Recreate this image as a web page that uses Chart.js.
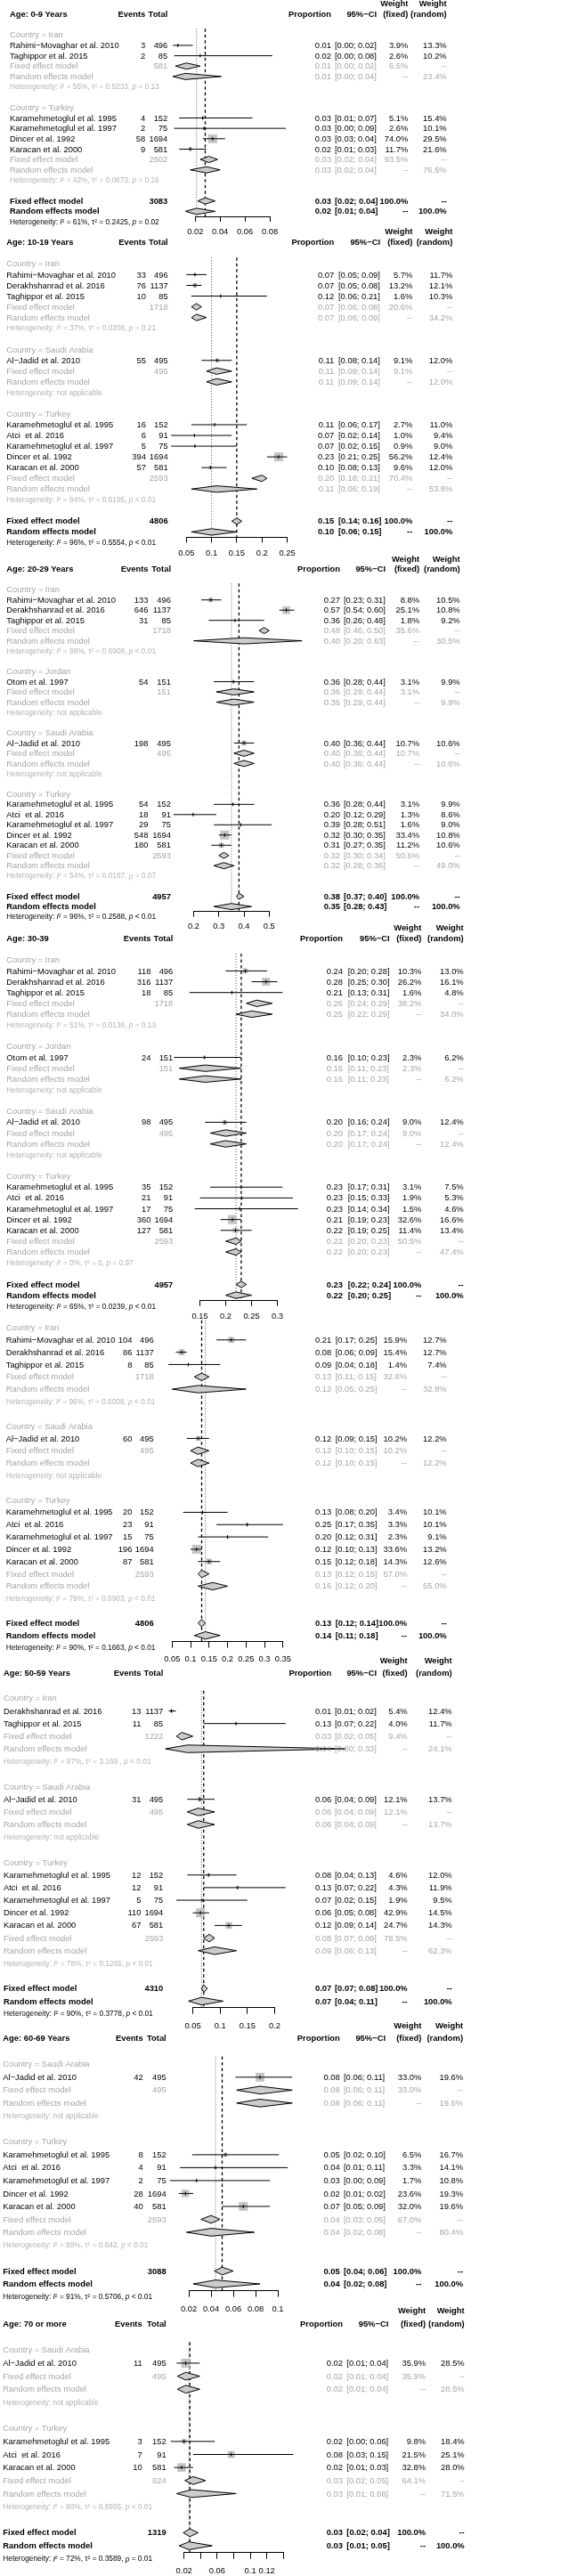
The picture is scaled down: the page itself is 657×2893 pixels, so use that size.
<!DOCTYPE html>
<html lang="en">
<head>
<meta charset="UTF-8" />
<title>Proportion by age group and country - forest plot</title>
<style>
  body { margin: 0; background: #fff; }
  #page { position: relative; width: 657px; height: 2893px; overflow: hidden; background: #fff; }
  #page canvas { position: absolute; left: 0; }
</style>
<script src="https://cdn.jsdelivr.net/npm/chart.js"></script>
</head>
<body>
<div id="page"></div>
<script>
// ---------- data ----------
const panelTitles = ["Age: 0-9 Years", "Age: 10-19 Years", "Age: 20-29 Years", "Age: 30-39", null,
  "Age: 50-59 Years", "Age: 60-69 Years", "Age: 70 or more"];
const panelTicks = [
  [0.02, 0.04, 0.06, 0.08],
  [0.05, 0.1, 0.15, 0.2, 0.25],
  [0.2, 0.3, 0.4, 0.5],
  [0.15, 0.2, 0.25, 0.3],
  [0.05, 0.1, 0.15, 0.2, 0.25, 0.3, 0.35],
  [0.05, 0.1, 0.15, 0.2],
  [0.02, 0.04, 0.06, 0.08, 0.1],
  [0.02, 0.04, 0.06, 0.08, 0.1, 0.12, 0.14]
];
const panelTickLabels = [
  ["0.02", "0.04", "0.06", "0.08"],
  ["0.05", "0.1", "0.15", "0.2", "0.25"],
  ["0.2", "0.3", "0.4", "0.5"],
  ["0.15", "0.2", "0.25", "0.3"],
  ["0.05", "0.1", "0.15", "0.2", "0.25", "0.3", "0.35"],
  ["0.05", "0.1", "0.15", "0.2"],
  ["0.02", "0.04", "0.06", "0.08", "0.1"],
  ["0.02", "", "0.06", "", "0.1", "0.12", ""]
];

// subgroups (country within age panel)
const sgPanel = [0, 0, 1, 1, 1, 2, 2, 2, 2, 3, 3, 3, 3, 4, 4, 4, 5, 5, 5, 6, 6, 7, 7];
const sgCountry = ["Iran", "Turkey", "Iran", "Saudi Arabia", "Turkey", "Iran", "Jordan", "Saudi Arabia", "Turkey",
  "Iran", "Jordan", "Saudi Arabia", "Turkey", "Iran", "Saudi Arabia", "Turkey", "Iran", "Saudi Arabia", "Turkey",
  "Saudi Arabia", "Turkey", "Saudi Arabia", "Turkey"];
const sgTotal = [581, 2502, 1718, 495, 2593, 1718, 151, 495, 2593, 1718, 151, 495, 2593, 1718, 495, 2593, 1222, 495, 2593, 495, 2593, 495, 824];
const sgFixEst = [0.013, 0.031, 0.07, 0.11, 0.20, 0.48, 0.36, 0.40, 0.32, 0.26, 0.16, 0.20, 0.22, 0.13, 0.12, 0.13, 0.03, 0.06, 0.08, 0.084, 0.040, 0.022, 0.031];
const sgFixLo = [0.004, 0.024, 0.06, 0.09, 0.18, 0.46, 0.29, 0.36, 0.30, 0.24, 0.11, 0.17, 0.20, 0.11, 0.10, 0.12, 0.02, 0.04, 0.07, 0.063, 0.031, 0.012, 0.021];
const sgFixHi = [0.024, 0.038, 0.08, 0.14, 0.21, 0.50, 0.44, 0.44, 0.34, 0.29, 0.23, 0.24, 0.23, 0.15, 0.15, 0.15, 0.05, 0.09, 0.09, 0.113, 0.048, 0.039, 0.046];
const sgFixW = [6.5, 93.5, 20.6, 9.1, 70.4, 35.6, 3.1, 10.7, 50.6, 38.2, 2.3, 9.0, 50.5, 32.8, 10.2, 57.0, 9.4, 12.1, 78.5, 33.0, 67.0, 35.9, 64.1];
const sgRanEst = [0.012, 0.029, 0.07, 0.11, 0.11, 0.40, 0.36, 0.40, 0.32, 0.25, 0.16, 0.20, 0.22, 0.12, 0.12, 0.16, 0.04, 0.06, 0.09, 0.084, 0.040, 0.022, 0.029];
const sgRanLo = [0.002, 0.016, 0.06, 0.09, 0.06, 0.20, 0.29, 0.36, 0.28, 0.22, 0.11, 0.17, 0.20, 0.05, 0.10, 0.12, 0.00, 0.04, 0.06, 0.063, 0.018, 0.012, 0.011];
const sgRanHi = [0.041, 0.040, 0.09, 0.14, 0.19, 0.63, 0.44, 0.44, 0.36, 0.29, 0.23, 0.24, 0.23, 0.25, 0.15, 0.20, 0.33, 0.09, 0.13, 0.113, 0.079, 0.039, 0.083];
const sgRanW = [23.4, 76.6, 34.2, 12.0, 53.8, 30.5, 9.9, 10.6, 49.0, 34.0, 6.2, 12.4, 47.4, 32.8, 12.2, 55.0, 24.1, 13.7, 62.3, 19.6, 80.4, 28.5, 71.5];
const sgI2 = [55, 42, 37, null, 94, 98, null, null, 54, 51, null, null, 0, 96, null, 79, 97, null, 78, null, 89, null, 80];
const sgTau2 = ["0.5233", "0.0873", "0.0206", null, "0.5195", "0.6908", null, null, "0.0167", "0.0136", null, null, "0",
  "0.6008", null, "0.0903", "3.169 ", null, "0.1265", null, "0.642", null, "0.6955"];
const sgP = ["= 0.13", "= 0.16", "= 0.21", null, "< 0.01", "< 0.01", null, null, "= 0.07", "= 0.13", null, null, "= 0.97",
  "< 0.01", null, "< 0.01", "< 0.01", null, "< 0.01", null, "< 0.01", null, "< 0.01"];

// studies
const stGroup = [0, 0, 1, 1, 1, 1, 2, 2, 2, 3, 4, 4, 4, 4, 4, 5, 5, 5, 6, 7, 8, 8, 8, 8, 8, 9, 9, 9, 10, 11,
  12, 12, 12, 12, 12, 13, 13, 13, 14, 15, 15, 15, 15, 15, 16, 16, 17, 18, 18, 18, 18, 18, 19, 20, 20, 20, 20, 20, 21, 22, 22, 22];
const stName = [
  "Rahimi−Movaghar et al. 2010", "Taghippor et al. 2015",
  "Karamehmetoglul et al. 1995", "Karamehmetoglul et al. 1997", "Dincer et al. 1992", "Karacan et al. 2000",
  "Rahimi−Movaghar et al. 2010", "Derakhshanrad et al. 2016", "Taghippor et al. 2015",
  "Al−Jadid et al. 2010",
  "Karamehmetoglul et al. 1995", "Atci  et al. 2016", "Karamehmetoglul et al. 1997", "Dincer et al. 1992", "Karacan et al. 2000",
  "Rahimi−Movaghar et al. 2010", "Derakhshanrad et al. 2016", "Taghippor et al. 2015",
  "Otom et al. 1997",
  "Al−Jadid et al. 2010",
  "Karamehmetoglul et al. 1995", "Atci  et al. 2016", "Karamehmetoglul et al. 1997", "Dincer et al. 1992", "Karacan et al. 2000",
  "Rahimi−Movaghar et al. 2010", "Derakhshanrad et al. 2016", "Taghippor et al. 2015",
  "Otom et al. 1997",
  "Al−Jadid et al. 2010",
  "Karamehmetoglul et al. 1995", "Atci  et al. 2016", "Karamehmetoglul et al. 1997", "Dincer et al. 1992", "Karacan et al. 2000",
  "Rahimi−Movaghar et al. 2010", "Derakhshanrad et al. 2016", "Taghippor et al. 2015",
  "Al−Jadid et al. 2010",
  "Karamehmetoglul et al. 1995", "Atci  et al. 2016", "Karamehmetoglul et al. 1997", "Dincer et al. 1992", "Karacan et al. 2000",
  "Derakhshanrad et al. 2016", "Taghippor et al. 2015",
  "Al−Jadid et al. 2010",
  "Karamehmetoglul et al. 1995", "Atci  et al. 2016", "Karamehmetoglul et al. 1997", "Dincer et al. 1992", "Karacan et al. 2000",
  "Al−Jadid et al. 2010",
  "Karamehmetoglul et al. 1995", "Atci  et al. 2016", "Karamehmetoglul et al. 1997", "Dincer et al. 1992", "Karacan et al. 2000",
  "Al−Jadid et al. 2010",
  "Karamehmetoglul et al. 1995", "Atci  et al. 2016", "Karacan et al. 2000"
];
const stEvents = [3, 2, 4, 2, 58, 9, 33, 76, 10, 55, 16, 6, 5, 394, 57, 133, 646, 31, 54, 198, 54, 18, 29, 548, 180,
  118, 316, 18, 24, 98, 35, 21, 17, 360, 127, 104, 86, 8, 60, 20, 23, 15, 196, 87, 13, 11, 31, 12, 12, 5, 110, 67,
  42, 8, 4, 2, 28, 40, 11, 3, 7, 10];
const stTotal = [496, 85, 152, 75, 1694, 581, 496, 1137, 85, 495, 152, 91, 75, 1694, 581, 496, 1137, 85, 151, 495,
  152, 91, 75, 1694, 581, 496, 1137, 85, 151, 495, 152, 91, 75, 1694, 581, 496, 1137, 85, 495, 152, 91, 75, 1694, 581,
  1137, 85, 495, 152, 91, 75, 1694, 581, 495, 152, 91, 75, 1694, 581, 495, 152, 91, 581];
const stEst = [0.006, 0.024, 0.026, 0.027, 0.034, 0.016, 0.067, 0.067, 0.118, 0.111, 0.106, 0.066, 0.067, 0.233, 0.098,
  0.268, 0.568, 0.364, 0.358, 0.400, 0.356, 0.198, 0.387, 0.323, 0.310, 0.238, 0.278, 0.212, 0.159, 0.198,
  0.230, 0.231, 0.227, 0.213, 0.219, 0.210, 0.076, 0.094, 0.121, 0.132, 0.253, 0.200, 0.116, 0.150,
  0.011, 0.129, 0.063, 0.079, 0.132, 0.067, 0.064, 0.116, 0.084, 0.053, 0.044, 0.027, 0.017, 0.069, 0.022, 0.020, 0.077, 0.017];
const stLo = [0.002, 0.003, 0.007, 0.003, 0.026, 0.007, 0.05, 0.05, 0.06, 0.08, 0.06, 0.02, 0.02, 0.21, 0.08,
  0.23, 0.54, 0.26, 0.28, 0.36, 0.28, 0.12, 0.28, 0.30, 0.27, 0.20, 0.25, 0.13, 0.10, 0.16,
  0.17, 0.15, 0.14, 0.19, 0.19, 0.17, 0.06, 0.04, 0.09, 0.08, 0.17, 0.12, 0.10, 0.12,
  0.006, 0.07, 0.04, 0.04, 0.07, 0.02, 0.05, 0.09, 0.062, 0.023, 0.012, 0.003, 0.011, 0.050, 0.011, 0.004, 0.031, 0.008];
const stHi = [0.018, 0.082, 0.066, 0.093, 0.044, 0.029, 0.09, 0.08, 0.21, 0.14, 0.17, 0.14, 0.15, 0.25, 0.13,
  0.31, 0.60, 0.48, 0.44, 0.44, 0.44, 0.29, 0.51, 0.35, 0.35, 0.28, 0.30, 0.31, 0.23, 0.24,
  0.31, 0.33, 0.34, 0.23, 0.25, 0.25, 0.09, 0.18, 0.15, 0.20, 0.35, 0.31, 0.13, 0.18,
  0.019, 0.22, 0.09, 0.13, 0.22, 0.15, 0.08, 0.14, 0.113, 0.101, 0.109, 0.093, 0.024, 0.093, 0.039, 0.057, 0.152, 0.031];
const stWF = [3.9, 2.6, 5.1, 2.6, 74.0, 11.7, 5.7, 13.2, 1.6, 9.1, 2.7, 1.0, 0.9, 56.2, 9.6, 8.8, 25.1, 1.8, 3.1, 10.7,
  3.1, 1.3, 1.6, 33.4, 11.2, 10.3, 26.2, 1.6, 2.3, 9.0, 3.1, 1.9, 1.5, 32.6, 11.4, 15.9, 15.4, 1.4, 10.2,
  3.4, 3.3, 2.3, 33.6, 14.3, 5.4, 4.0, 12.1, 4.6, 4.3, 1.9, 42.9, 24.7, 33.0, 6.5, 3.3, 1.7, 23.6, 32.0, 35.9, 9.8, 21.5, 32.8];
const stWR = [13.3, 10.2, 15.4, 10.1, 29.5, 21.6, 11.7, 12.1, 10.3, 12.0, 11.0, 9.4, 9.0, 12.4, 12.0, 10.5, 10.8, 9.2, 9.9, 10.6,
  9.9, 8.6, 9.0, 10.8, 10.6, 13.0, 16.1, 4.8, 6.2, 12.4, 7.5, 5.3, 4.6, 16.6, 13.4, 12.7, 12.7, 7.4, 12.2,
  10.1, 10.1, 9.1, 13.2, 12.6, 12.4, 11.7, 13.7, 12.0, 11.9, 9.5, 14.5, 14.3, 19.6, 16.7, 14.1, 10.8, 19.3, 19.6, 28.5, 18.4, 25.1, 28.0];

// overall results per age panel
const ovTotal = [3083, 4806, 4957, 4957, 4806, 4310, 3088, 1319];
const ovFixEst = [0.028, 0.15, 0.38, 0.23, 0.13, 0.070, 0.050, 0.027];
const ovFixLo = [0.022, 0.14, 0.37, 0.22, 0.12, 0.066, 0.043, 0.019];
const ovFixHi = [0.036, 0.16, 0.40, 0.24, 0.14, 0.077, 0.060, 0.037];
const ovRanEst = [0.021, 0.10, 0.35, 0.22, 0.14, 0.066, 0.044, 0.026];
const ovRanLo = [0.012, 0.06, 0.28, 0.20, 0.11, 0.042, 0.024, 0.014];
const ovRanHi = [0.036, 0.15, 0.43, 0.25, 0.18, 0.106, 0.084, 0.054];
const ovI2 = [61, 96, 96, 65, 90, 90, 91, 72];
const ovTau2 = ["0.2425", "0.5554", "0.2588", "0.0239", "0.1663", "0.3778", "0.5706", "0.3589"];
const ovP = ["= 0.02", "< 0.01", "< 0.01", "< 0.01", "< 0.01", "< 0.01", "< 0.01", "= 0.01"];

// ---------- layout (pixels) ----------
// H: y of the header row, p: row pitch, x0/x1: pixel of first/last tick, rest: text columns
const panelLayout = [
  { H: 16, p: 11.65, x0: 219.3, x1: 303, lab: 11, ev: 163.3, tot: 188.3, prop: 372, ci: 376, wf: 458.3, wr: 501.7 },
  { H: 272.3, p: 12.04, x0: 209.3, x1: 322.5, lab: 7.3, ev: 164, tot: 188.7, prop: 375.3, ci: 380, wf: 463.3, wr: 508.3 },
  { H: 639.3, p: 11.48, x0: 217.5, x1: 302.3, lab: 7.3, ev: 166.5, tot: 192, prop: 382, ci: 386, wf: 471, wr: 516.7 },
  { H: 1054, p: 12.14, x0: 224.5, x1: 311.5, lab: 7.3, ev: 169.5, tot: 194.3, prop: 385, ci: 390.7, wf: 473.3, wr: 520.7 },
  { H: 1463.3, p: 13.83, x0: 193.3, x1: 317.8, lab: 6.7, ev: 148.5, tot: 172.7, prop: 372.3, ci: 376.7, wf: 457, wr: 501.7 },
  { H: 1879, p: 14.17, x0: 216.5, x1: 308.5, lab: 4, ev: 158.5, tot: 183.3, prop: 372.3, ci: 376, wf: 457.7, wr: 507.7 },
  { H: 2289.3, p: 14.51, x0: 212, x1: 312, lab: 3.3, ev: 160.7, tot: 186.7, prop: 381.7, ci: 386, wf: 473.3, wr: 520 },
  { H: 2610, p: 14.65, x0: 206.7, x1: 318.3, lab: 3.3, ev: 159.7, tot: 186.7, prop: 385, ci: 389.3, wf: 478, wr: 521.7 }
];

const W = 657;
const FAMILY = "'Liberation Sans', Arial, Helvetica, sans-serif";
const FS = 9.4, FS_HET = 8.3;
const GREY = "#a6a6a6", GREY_HET = "#b3b3b3";
const SQUARE_GREY = "#c4c4c4", DIAMOND_GREY = "#cccccc";

Chart.defaults.font.family = FAMILY;
Chart.defaults.color = "#000";

const pct = w => (w == null ? "--" : w.toFixed(1) + "%");
const ciText = (lo, hi) => "[" + lo.toFixed(2) + "; " + hi.toFixed(2) + "]";

function buildRows(k) {
  const rows = [];
  let r = 2;
  sgPanel.forEach((pk, g) => {
    if (pk !== k) return;
    rows.push({ kind: "country", r: r++, g });
    stGroup.forEach((gg, i) => { if (gg === g) rows.push({ kind: "study", r: r++, i }); });
    rows.push({ kind: "sfix", r: r++, g });
    rows.push({ kind: "sran", r: r++, g });
    rows.push({ kind: "shet", r: r++, g });
    r++;
  });
  rows.push({ kind: "ofix", r: r++ });
  rows.push({ kind: "oran", r: r++ });
  const axisRow = r - 0.5;
  rows.push({ kind: "ohet", r: r });
  return { rows, axisRow };
}

function drawHet(ctx, x, y, I2, tau2, p, color) {
  const normal = FS_HET + "px " + FAMILY, italic = "italic " + normal;
  const parts = I2 == null
    ? [["Heterogeneity: not applicable", normal]]
    : [["Heterogeneity: ", normal], ["I", italic], ["\u00b2 = " + I2 + "%, \u03c4\u00b2 = " + tau2 + ", ", normal],
       ["p", italic], [" " + p, normal]];
  ctx.fillStyle = color;
  ctx.textAlign = "left";
  let cx = x;
  parts.forEach(([t, f]) => {
    ctx.font = f;
    ctx.fillText(t, cx, y);
    cx += ctx.measureText(t).width;
  });
}

function textPlugin(k, rows) {
  const L = panelLayout[k];
  return {
    id: "forestText" + k,
    afterDraw(chart) {
      const ctx = chart.ctx, ys = chart.scales.y;
      const norm = FS + "px " + FAMILY, bold = "bold " + norm;
      const Y = r => ys.getPixelForValue(r) + 0.5;
      const put = (t, x, r, align, font, color) => {
        ctx.font = font; ctx.fillStyle = color; ctx.textAlign = align;
        ctx.fillText(t, x, Y(r));
      };
      const nums = (r, est, lo, hi, wf, wr, font, color) => {
        put(est.toFixed(2), L.prop, r, "right", font, color);
        put(ciText(lo, hi), L.ci, r, "left", font, color);
        put(pct(wf), L.wf, r, "right", font, color);
        put(pct(wr), L.wr, r, "right", font, color);
      };
      ctx.save();
      ctx.textBaseline = "middle";
      if (panelTitles[k]) {
        put(panelTitles[k], L.lab, 0, "left", bold, "#000");
        put("Events", L.ev, 0, "right", bold, "#000");
        put("Total", L.tot, 0, "right", bold, "#000");
        put("Proportion", L.prop, 0, "right", bold, "#000");
        put("95%\u2212CI", L.ci + 47, 0, "right", bold, "#000");
        put("Weight", L.wf, -1, "right", bold, "#000");
        put("(fixed)", L.wf, 0, "right", bold, "#000");
        put("Weight", L.wr, -1, "right", bold, "#000");
        put("(random)", L.wr, 0, "right", bold, "#000");
      }
      rows.forEach(o => {
        if (o.kind === "country") {
          put("Country = " + sgCountry[o.g], L.lab, o.r, "left", norm, GREY);
        } else if (o.kind === "study") {
          const i = o.i;
          put(stName[i], L.lab, o.r, "left", norm, "#000");
          put(String(stEvents[i]), L.ev, o.r, "right", norm, "#000");
          put(String(stTotal[i]), L.tot, o.r, "right", norm, "#000");
          nums(o.r, stEst[i], stLo[i], stHi[i], stWF[i], stWR[i], norm, "#000");
        } else if (o.kind === "sfix") {
          put("Fixed effect model", L.lab, o.r, "left", norm, GREY);
          put(String(sgTotal[o.g]), L.tot, o.r, "right", norm, GREY);
          nums(o.r, sgFixEst[o.g], sgFixLo[o.g], sgFixHi[o.g], sgFixW[o.g], null, norm, GREY);
        } else if (o.kind === "sran") {
          put("Random effects model", L.lab, o.r, "left", norm, GREY);
          nums(o.r, sgRanEst[o.g], sgRanLo[o.g], sgRanHi[o.g], null, sgRanW[o.g], norm, GREY);
        } else if (o.kind === "shet") {
          drawHet(ctx, L.lab, Y(o.r), sgI2[o.g], sgTau2[o.g], sgP[o.g], GREY_HET);
        } else if (o.kind === "ofix") {
          put("Fixed effect model", L.lab, o.r, "left", bold, "#000");
          put(String(ovTotal[k]), L.tot, o.r, "right", bold, "#000");
          nums(o.r, ovFixEst[k], ovFixLo[k], ovFixHi[k], 100, null, bold, "#000");
        } else if (o.kind === "oran") {
          put("Random effects model", L.lab, o.r, "left", bold, "#000");
          nums(o.r, ovRanEst[k], ovRanLo[k], ovRanHi[k], null, 100, bold, "#000");
        } else if (o.kind === "ohet") {
          drawHet(ctx, L.lab, Y(o.r), ovI2[k], ovTau2[k], ovP[k], "#000");
        }
      });
      ctx.restore();
    }
  };
}

// marks may sit outside the tick range (forest plot style), so open the area while datasets draw
const openArea = {
  id: "openArea",
  beforeDatasetsDraw(chart) {
    chart.$area = chart.chartArea;
    chart.chartArea = { left: 0, top: 0, right: chart.width, bottom: chart.height, width: chart.width, height: chart.height };
  },
  afterDatasetsDraw(chart) {
    chart.chartArea = chart.$area;
  }
};

function diamond(est, lo, hi, r, h) {
  return {
    type: "line",
    data: [{ x: lo, y: r }, { x: est, y: r - h }, { x: hi, y: r }, { x: est, y: r + h }, { x: lo, y: r }],
    borderColor: "#000", borderWidth: 1, backgroundColor: DIAMOND_GREY, fill: "shape",
    pointRadius: 0, tension: 0, order: 1, clip: false
  };
}

const page = document.getElementById("page");

panelLayout.forEach((L, k) => {
  const { rows, axisRow } = buildRows(k);
  const top = Math.max(0, Math.floor(L.H - 1.6 * L.p - 2));
  const padTop = L.H - top;
  const axisH = 2.3 * L.p + 4;
  const height = Math.ceil(padTop + axisRow * L.p + axisH);
  const padBottom = height - padTop - axisRow * L.p - axisH;
  const tickLen = 0.5 * L.p;

  const canvas = document.createElement("canvas");
  canvas.width = W;
  canvas.height = height;
  canvas.style.top = top + "px";
  page.appendChild(canvas);

  const studyRows = rows.filter(o => o.kind === "study");
  const wmax = Math.max(...studyRows.map(o => stWF[o.i]));
  const DH = 0.3;

  const datasets = [
    { type: "line", data: [{ x: ovFixEst[k], y: 1.4 }, { x: ovFixEst[k], y: axisRow }],
      borderColor: "#000", borderWidth: 1.3, borderDash: [3.5, 3], pointRadius: 0, order: 9, clip: false },
    { type: "line", data: [{ x: ovRanEst[k], y: 1.4 }, { x: ovRanEst[k], y: axisRow }],
      borderColor: "#555", borderWidth: 1, borderDash: [1, 2], pointRadius: 0, order: 9, clip: false },
    { type: "scatter", data: studyRows.map(o => ({ x: stEst[o.i], y: o.r })),
      pointStyle: "rect", pointRadius: studyRows.map(o => 7.1 * Math.sqrt(stWF[o.i] / wmax)),
      backgroundColor: SQUARE_GREY, borderWidth: 0, order: 8, clip: false },
    { type: "scatter", data: studyRows.map(o => ({ x: stEst[o.i], y: o.r })),
      pointStyle: "line", rotation: 90, pointRadius: 2, borderColor: "#000", borderWidth: 1, order: 6, clip: false }
  ];
  studyRows.forEach(o => {
    datasets.push({ type: "line", data: [{ x: stLo[o.i], y: o.r }, { x: stHi[o.i], y: o.r }],
      borderColor: "#000", borderWidth: 1, pointRadius: 0, order: 7, clip: false });
  });
  rows.forEach(o => {
    if (o.kind === "sfix") datasets.push(diamond(sgFixEst[o.g], sgFixLo[o.g], sgFixHi[o.g], o.r, DH));
    if (o.kind === "sran") datasets.push(diamond(sgRanEst[o.g], sgRanLo[o.g], sgRanHi[o.g], o.r, DH));
    if (o.kind === "ofix") datasets.push(diamond(ovFixEst[k], ovFixLo[k], ovFixHi[k], o.r, DH));
    if (o.kind === "oran") datasets.push(diamond(ovRanEst[k], ovRanLo[k], ovRanHi[k], o.r, DH));
  });

  const ticks = panelTicks[k];
  new Chart(canvas, {
    type: "line",
    data: { datasets },
    options: {
      responsive: false,
      animation: false,
      devicePixelRatio: 1,
      events: [],
      layout: { padding: { left: L.x0, right: W - L.x1, top: padTop, bottom: padBottom } },
      plugins: { legend: { display: false }, tooltip: { enabled: false } },
      scales: {
        x: {
          type: "linear",
          bounds: "data",
          position: "bottom",
          afterDataLimits: s => { s.min = ticks[0]; s.max = ticks[ticks.length - 1]; },
          afterBuildTicks: s => { s.ticks = ticks.map(v => ({ value: v })); },
          afterFit: s => { s.height = axisH; s.paddingLeft = 0; s.paddingRight = 0; s.paddingTop = 0; s.paddingBottom = 0; },
          grid: { display: true, drawOnChartArea: false, drawTicks: true, tickLength: tickLen, color: "#000", lineWidth: 1 },
          border: { display: true, color: "#000", width: 1 },
          ticks: {
            autoSkip: false, maxRotation: 0, minRotation: 0,
            padding: L.p - 0.6 * FS - 0.5,
            font: { size: FS, family: FAMILY }, color: "#000",
            callback: (v, i) => panelTickLabels[k][i]
          }
        },
        y: { type: "linear", display: false, min: 0, max: axisRow, reverse: true }
      }
    },
    plugins: [openArea, textPlugin(k, rows)]
  });
});
</script>
</body>
</html>
